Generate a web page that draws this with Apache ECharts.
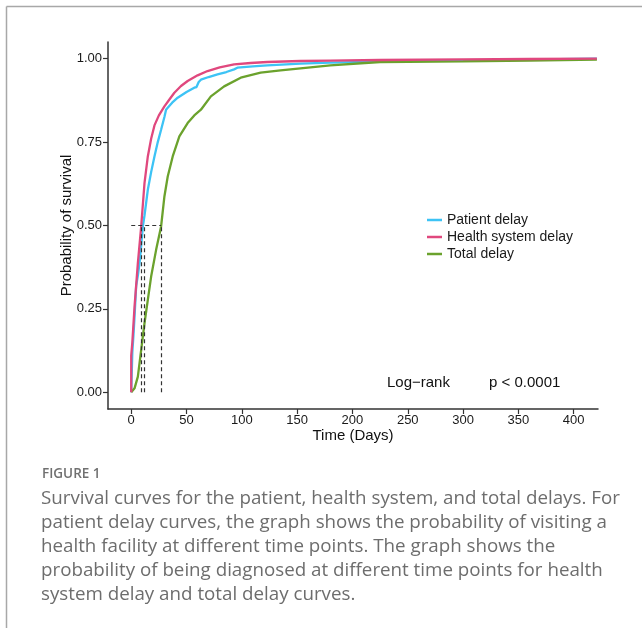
<!DOCTYPE html>
<html>
<head>
<meta charset="utf-8">
<title>Survival curves</title>
<script src="https://cdn.jsdelivr.net/npm/echarts@6/dist/echarts.min.js"></script>
<style>
  html, body { margin: 0; padding: 0; background: #fff; }
  #chart { width: 642px; height: 628px; }
</style>
</head>
<body>
<div id="chart"></div>
<script>
// ---- data ----
var seriesNames = ['Patient delay', 'Health system delay', 'Total delay']

var patientDays = [0, 1, 2, 3, 4.5, 6, 7.5, 9, 10.5, 12, 15, 18, 21, 24, 27, 30, 31.5, 33, 37, 42, 50, 57, 59, 61, 63, 70, 78, 86, 93, 96, 110, 123, 153, 180, 225, 300, 421]
var patientProb = [0, 0.12, 0.17, 0.227, 0.32, 0.35, 0.387, 0.44, 0.497, 0.53, 0.607, 0.66, 0.707, 0.75, 0.787, 0.825, 0.847, 0.853, 0.868, 0.883, 0.9, 0.913, 0.915, 0.93, 0.937, 0.945, 0.953, 0.96, 0.968, 0.973, 0.977, 0.98, 0.985, 0.988, 0.991, 0.995, 1.0]

var healthDays = [0, 0, 1, 3, 6, 9, 12, 15, 18, 21, 25, 30, 35, 39, 45, 51, 60, 69, 80, 93, 108, 123, 153, 180, 225, 300, 360, 421]
var healthProb = [0, 0.11, 0.15, 0.257, 0.387, 0.497, 0.627, 0.707, 0.76, 0.8, 0.83, 0.857, 0.88, 0.898, 0.918, 0.933, 0.95, 0.963, 0.974, 0.983, 0.987, 0.99, 0.993, 0.994, 0.996, 0.998, 0.999, 1.0]

var totalDays = [0, 3, 6, 9, 12, 15, 18, 22.5, 27, 30, 33, 37.5, 43.5, 51, 57, 63, 72, 84, 99, 117, 135, 153, 180, 225, 300, 360, 421]
var totalProb = [0, 0.012, 0.047, 0.127, 0.207, 0.277, 0.347, 0.427, 0.497, 0.587, 0.647, 0.707, 0.767, 0.807, 0.83, 0.847, 0.887, 0.917, 0.943, 0.958, 0.965, 0.971, 0.98, 0.99, 0.992, 0.994, 0.997]

// median times (days) where each curve reaches 0.5
var medianDays = [9, 12, 27]
var medianLevel = 0.5

var xTicks = [0, 50, 100, 150, 200, 250, 300, 350, 400]
var yTicks = [0, 0.25, 0.5, 0.75, 1]

var captionTitle = 'FIGURE 1'
var captionLines = [
  'Survival curves for the patient, health system, and total delays. For',
  'patient delay curves, the graph shows the probability of visiting a',
  'health facility at different time points. The graph shows the',
  'probability of being diagnosed at different time points for health',
  'system delay and total delay curves.'
]

function pairs (xs, ys) {
  var out = []
  for (var i = 0; i < xs.length; i++) out.push([xs[i], ys[i]])
  return out
}

var chartDom = document.getElementById('chart')
var myChart = echarts.init(chartDom, null, { renderer: 'canvas' })
var option

var colors = ['#3DC3F5', '#E0487E', '#6BA22D']
var sansFont = 'Liberation Sans'

// dashed median guide lines
var guideData = [[{ coord: [0, medianLevel] }, { coord: [Math.max.apply(null, medianDays), medianLevel] }]]
medianDays.forEach(function (d) {
  guideData.push([{ coord: [d, 0] }, { coord: [d, medianLevel] }])
})

option = {
  backgroundColor: '#fff',
  animation: false,
  color: colors,
  grid: {
    left: 108,
    right: 44,
    top: 42,
    bottom: 219,
    containLabel: false
  },
  legend: {
    orient: 'vertical',
    left: 427,
    top: 213,
    padding: 0,
    icon: 'rect',
    itemWidth: 15,
    itemHeight: 2.5,
    itemGap: 3,
    data: seriesNames,
    textStyle: { fontFamily: sansFont, fontSize: 14, color: '#1a1a1a' }
  },
  xAxis: {
    type: 'value',
    min: -21,
    max: 422,
    name: 'Time (Days)',
    nameLocation: 'middle',
    nameGap: 19,
    nameMoveOverlap: false,
    nameTextStyle: { fontFamily: sansFont, fontSize: 15, color: '#111' },
    splitLine: { show: false },
    axisLine: { show: true, onZero: false, lineStyle: { color: '#333', width: 1.5 } },
    axisTick: { show: true, length: 5, customValues: xTicks, lineStyle: { color: '#333', width: 1.2 } },
    axisLabel: { customValues: xTicks, margin: 5, fontFamily: sansFont, fontSize: 13, color: '#1a1a1a' }
  },
  yAxis: {
    type: 'value',
    min: -0.05,
    max: 1.05,
    name: 'Probability of survival',
    nameLocation: 'middle',
    nameGap: 34,
    nameMoveOverlap: false,
    nameTextStyle: { fontFamily: sansFont, fontSize: 15, color: '#111' },
    splitLine: { show: false },
    axisLine: { show: true, onZero: false, lineStyle: { color: '#333', width: 1.5 } },
    axisTick: { show: true, length: 5, customValues: yTicks, lineStyle: { color: '#333', width: 1.2 } },
    axisLabel: {
      customValues: yTicks,
      margin: 6,
      fontFamily: sansFont,
      fontSize: 13,
      color: '#1a1a1a',
      formatter: function (v) { return v.toFixed(2) }
    }
  },
  series: [
    {
      name: seriesNames[0],
      type: 'line',
      data: pairs(patientDays, patientProb),
      showSymbol: false,
      lineStyle: { width: 2.3, color: colors[0] },
      z: 3
    },
    {
      name: seriesNames[1],
      type: 'line',
      data: pairs(healthDays, healthProb),
      showSymbol: false,
      lineStyle: { width: 2.3, color: colors[1] },
      z: 4
    },
    {
      name: seriesNames[2],
      type: 'line',
      data: pairs(totalDays, totalProb),
      showSymbol: false,
      lineStyle: { width: 2.3, color: colors[2] },
      z: 3,
      markLine: {
        silent: true,
        symbol: ['none', 'none'],
        label: { show: false },
        lineStyle: { color: '#333', type: [4, 3], width: 1.2 },
        data: guideData
      }
    }
  ],
  graphic: [
    // figure frame
    { type: 'line', shape: { x1: 6.5, y1: 6.5, x2: 642, y2: 6.5 }, style: { stroke: '#a8a8a8', lineWidth: 1.5 } },
    { type: 'line', shape: { x1: 6.5, y1: 6.5, x2: 6.5, y2: 628 }, style: { stroke: '#a8a8a8', lineWidth: 1.5 } },
    // log-rank annotation
    { type: 'text', left: 387, top: 375, style: { text: 'Log\u2212rank', font: '15px "Liberation Sans"', fill: '#111' } },
    { type: 'text', left: 489, top: 375, style: { text: 'p < 0.0001', font: '15px "Liberation Sans"', fill: '#111' } },
    // caption
    { type: 'text', left: 42, top: 467, style: { text: captionTitle, font: '600 13.5px "Open Sans"', fill: '#707070' } },
    { type: 'text', left: 41, top: 487, style: { text: captionLines.join('\n'), font: '18.75px "Open Sans"', lineHeight: 24, fill: '#6d6d6d' } }
  ]
}

option && myChart.setOption(option)

window.addEventListener('resize', function () {
  myChart.resize()
})
</script>
</body>
</html>
